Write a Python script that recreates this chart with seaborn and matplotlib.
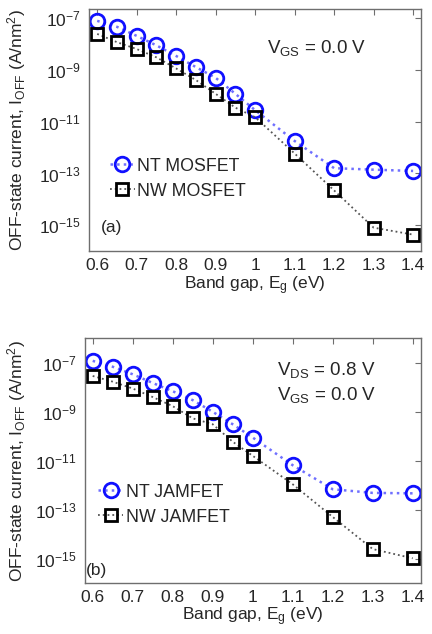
import numpy as np
import pandas as pd
import seaborn as sns
import matplotlib
matplotlib.use("Agg")
import matplotlib.pyplot as plt
from matplotlib.ticker import FixedLocator, LogFormatterMathtext, NullLocator
from matplotlib.lines import Line2D

# ---- data ----
band_gap = [0.6, 0.65, 0.7, 0.75, 0.8, 0.85, 0.9, 0.95, 1.0, 1.1, 1.2, 1.3, 1.4]

nt_mosfet = [8e-8, 4.7e-8, 2.1e-8, 9e-9, 3.5e-9, 1.3e-9, 5e-10, 1.2e-10,
             2.8e-11, 1.8e-12, 1.6e-13, 1.4e-13, 1.25e-13]
nw_mosfet = [2.5e-8, 1.2e-8, 6.5e-9, 3.1e-9, 1.15e-9, 4.1e-10, 1.2e-10, 3.5e-11,
             1.5e-11, 5.9e-13, 2.2e-14, 8e-16, 4.3e-16]

nt_jamfet = [1.2e-7, 6.9e-8, 3.4e-8, 1.5e-8, 6.9e-9, 3e-9, 1e-9, 3.1e-10,
             8.9e-11, 6.6e-12, 6.9e-13, 4.9e-13, 4.7e-13]
nw_jamfet = [2.9e-8, 1.7e-8, 8.9e-9, 4e-9, 1.7e-9, 5.4e-10, 3.1e-10, 6e-11,
             1.6e-11, 1.1e-12, 5.1e-14, 2.5e-15, 1.05e-15]

x_ticks = [0.6, 0.7, 0.8, 0.9, 1.0, 1.1, 1.2, 1.3, 1.4]
x_tick_labels = ["0.6", "0.7", "0.8", "0.9", "1", "1.1", "1.2", "1.3", "1.4"]
y_ticks = [1e-15, 1e-13, 1e-11, 1e-9, 1e-7]

labels_a = ["NT MOSFET", "NW MOSFET"]
labels_b = ["NT JAMFET", "NW JAMFET"]

sns.set_style("white")
plt.rcParams["font.family"] = ["Liberation Sans", "DejaVu Sans"]
plt.rcParams["mathtext.fontset"] = "custom"
plt.rcParams["mathtext.rm"] = "Liberation Sans"
plt.rcParams["mathtext.it"] = "Liberation Sans"
plt.rcParams["mathtext.bf"] = "Liberation Sans"

FS = 12.5
FS_LEG = 12.8
FS_ANN = 13.5
TXT = "#262626"
FRAME = "#6e6e6e"

fig = plt.figure(figsize=(4.32, 6.34), dpi=100)
ax_a = fig.add_axes([89.3 / 432, 1 - 251 / 634, 331.7 / 432, 242 / 634])
ax_b = fig.add_axes([84.7 / 432, 1 - 583.3 / 634, 336 / 432, 245 / 634])

circle_kw = dict(marker="o", ms=10.5, mfc="none", mec="#1010ff", mew=2.0,
                 color="#6f6fff", ls=":", lw=1.8)
square_kw = dict(marker="s", ms=9, mfc="none", mec="black", mew=2.0,
                 color="#555555", ls=":", lw=1.3)


def draw(ax, nt, nw, ylim):
    df = pd.DataFrame({"Eg": band_gap, "nt": nt, "nw": nw})
    sns.lineplot(data=df, x="Eg", y="nt", ax=ax, **circle_kw)
    sns.lineplot(data=df, x="Eg", y="nw", ax=ax, **square_kw)
    ax.set_yscale("log")
    ax.set_xlim(0.58, 1.42)
    ax.set_ylim(*ylim)
    ax.xaxis.set_major_locator(FixedLocator(x_ticks))
    ax.set_xticklabels(x_tick_labels)
    ax.yaxis.set_major_locator(FixedLocator(y_ticks))
    ax.yaxis.set_major_formatter(LogFormatterMathtext())
    ax.yaxis.set_minor_locator(NullLocator())
    ax.tick_params(axis="both", which="major", direction="in", length=4,
                   width=0.8, color=FRAME, labelsize=FS, labelcolor=TXT,
                   top=True, right=True)
    ax.tick_params(axis="x", pad=5)
    ax.tick_params(axis="y", pad=6)
    for s in ax.spines.values():
        s.set_color(FRAME)
        s.set_linewidth(1.0)
        s.set_visible(True)
    ax.set_xlabel(r"Band gap, E$_\mathregular{g}$ (eV)", fontsize=FS, color=TXT)
    ax.set_ylabel(r"OFF-state current, I$_\mathregular{OFF}$ (A/nm$^\mathregular{2}$)",
                  fontsize=FS, color=TXT)


draw(ax_a, nt_mosfet, nw_mosfet, (1e-16, 2.3e-7))
draw(ax_b, nt_jamfet, nw_jamfet, (1e-16, 1e-6))

ax_a.xaxis.set_label_coords(0.5, -0.095)
ax_b.xaxis.set_label_coords(0.5, -0.092)
ax_a.yaxis.set_label_coords(-0.185, 0.5)
ax_b.yaxis.set_label_coords(-0.169, 0.5)


def legend(ax, labels, x, y):
    h = [Line2D([], [], **circle_kw), Line2D([], [], **square_kw)]
    ax.legend(h, labels, loc="center left", bbox_to_anchor=(x, y),
              frameon=False, fontsize=FS_LEG, handlelength=1.4,
              handletextpad=0.15, labelspacing=0.45, borderpad=0,
              borderaxespad=0, labelcolor=TXT)


legend(ax_a, labels_a, 0.062, 0.299)
legend(ax_b, labels_b, 0.04, 0.321)

ax_a.text(0.535, 0.818, r"V$_\mathregular{GS}$ = 0.0 V", transform=ax_a.transAxes,
          fontsize=FS_ANN, color=TXT, va="baseline", ha="left")
ax_a.text(0.035, 0.08, "(a)", transform=ax_a.transAxes, fontsize=FS,
          color=TXT, va="baseline", ha="left")

ax_b.text(0.571, 0.85, r"V$_\mathregular{DS}$ = 0.8 V", transform=ax_b.transAxes,
          fontsize=FS_ANN, color=TXT, va="baseline", ha="left")
ax_b.text(0.571, 0.748, r"V$_\mathregular{GS}$ = 0.0 V", transform=ax_b.transAxes,
          fontsize=FS_ANN, color=TXT, va="baseline", ha="left")
ax_b.text(0.004, 0.034, "(b)", transform=ax_b.transAxes, fontsize=FS,
          color=TXT, va="baseline", ha="left")

fig.savefig("out.png", dpi=100)
